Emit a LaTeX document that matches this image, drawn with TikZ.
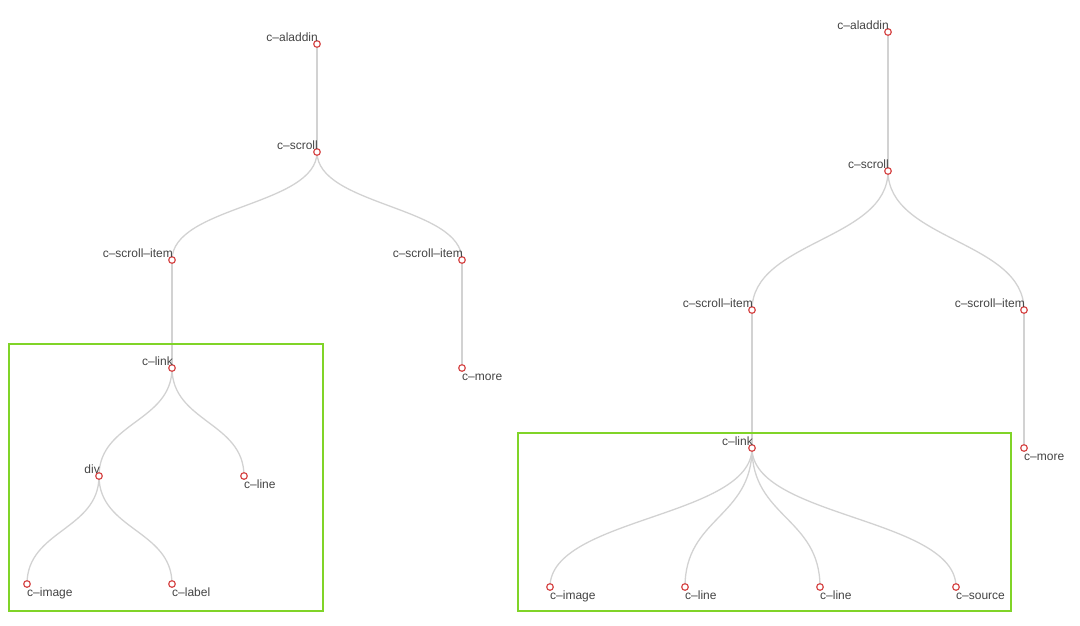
\documentclass[tikz,border=0pt]{standalone}
\usepackage{fontspec}
\setmainfont{Liberation Sans}
\usepackage{tikz}
\usetikzlibrary{calc, backgrounds}

\definecolor{linkgray}{RGB}{210,210,210}
\definecolor{dotred}{RGB}{214,72,72}
\definecolor{textgray}{RGB}{68,68,68}
\definecolor{framegreen}{RGB}{128,212,40}

\begin{document}
\begin{tikzpicture}[x=1pt, y=-1pt, font=\fontsize{12}{14}\selectfont, text=textgray,
      dot/.style={circle, draw=dotred, fill=white, line width=1.2pt, minimum size=6.6pt, inner sep=0pt},
      inner/.style={anchor=base east, inner sep=0pt},
      leaf/.style={anchor=base west, inner sep=0pt},
      link/.style={draw=linkgray, line width=1.3pt,
        to path={let \p1=(\tikztostart), \p2=(\tikztotarget) in
          .. controls (\x1,{(\y1+\y2)/2}) and (\x2,{(\y1+\y2)/2}) .. (\tikztotarget)}},
      frame/.style={draw=framegreen, line width=2.6pt}]
    \useasboundingbox (0,0) rectangle (1080,625);

    % left tree
    \node[dot] (la) at (317,44) {};
    \node[dot] (ls) at (317,152) {};
    \node[dot] (lsi1) at (172,260) {};
    \node[dot] (lsi2) at (462,260) {};
    \node[dot] (llink) at (172,368) {};
    \node[dot] (lmore) at (462,368) {};
    \node[dot] (ldiv) at (99,476) {};
    \node[dot] (lline) at (244,476) {};
    \node[dot] (limage) at (27,584) {};
    \node[dot] (llabel) at (172,584) {};

    \node[inner] at ($(la)+(1,-3)$) {c--aladdin};
    \node[inner] at ($(ls)+(1,-3)$) {c--scroll};
    \node[inner] at ($(lsi1)+(1,-3)$) {c--scroll--item};
    \node[inner] at ($(lsi2)+(1,-3)$) {c--scroll--item};
    \node[inner] at ($(llink)+(1,-3)$) {c--link};
    \node[inner] at ($(ldiv)+(1,-3)$) {div};
    \node[leaf] at ($(lmore)+(0,12)$) {c--more};
    \node[leaf] at ($(lline)+(0,12)$) {c--line};
    \node[leaf] at ($(limage)+(0,12)$) {c--image};
    \node[leaf] at ($(llabel)+(0,12)$) {c--label};

    % right tree
    \node[dot] (ra) at (888,32) {};
    \node[dot] (rs) at (888,171) {};
    \node[dot] (rsi1) at (752,310) {};
    \node[dot] (rsi2) at (1024,310) {};
    \node[dot] (rlink) at (752,448) {};
    \node[dot] (rmore) at (1024,448) {};
    \node[dot] (rimage) at (550,587) {};
    \node[dot] (rline1) at (685,587) {};
    \node[dot] (rline2) at (820,587) {};
    \node[dot] (rsource) at (956,587) {};

    \node[inner] at ($(ra)+(1,-3)$) {c--aladdin};
    \node[inner] at ($(rs)+(1,-3)$) {c--scroll};
    \node[inner] at ($(rsi1)+(1,-3)$) {c--scroll--item};
    \node[inner] at ($(rsi2)+(1,-3)$) {c--scroll--item};
    \node[inner] at ($(rlink)+(1,-3)$) {c--link};
    \node[leaf] at ($(rmore)+(0,12)$) {c--more};
    \node[leaf] at ($(rimage)+(0,12)$) {c--image};
    \node[leaf] at ($(rline1)+(0,12)$) {c--line};
    \node[leaf] at ($(rline2)+(0,12)$) {c--line};
    \node[leaf] at ($(rsource)+(0,12)$) {c--source};

    \begin{scope}[on background layer]
      \foreach \p/\c in {la/ls, ls/lsi1, ls/lsi2, lsi1/llink, lsi2/lmore, llink/ldiv,
          llink/lline, ldiv/limage, ldiv/llabel,
          ra/rs, rs/rsi1, rs/rsi2, rsi1/rlink, rsi2/rmore, rlink/rimage,
          rlink/rline1, rlink/rline2, rlink/rsource}
        \path[link] (\p.center) to (\c.center);
    \end{scope}

    % highlight frames
    \draw[frame] (9,344) rectangle (323,611);
    \draw[frame] (518,433) rectangle (1011,611);
  \end{tikzpicture}
\end{document}
